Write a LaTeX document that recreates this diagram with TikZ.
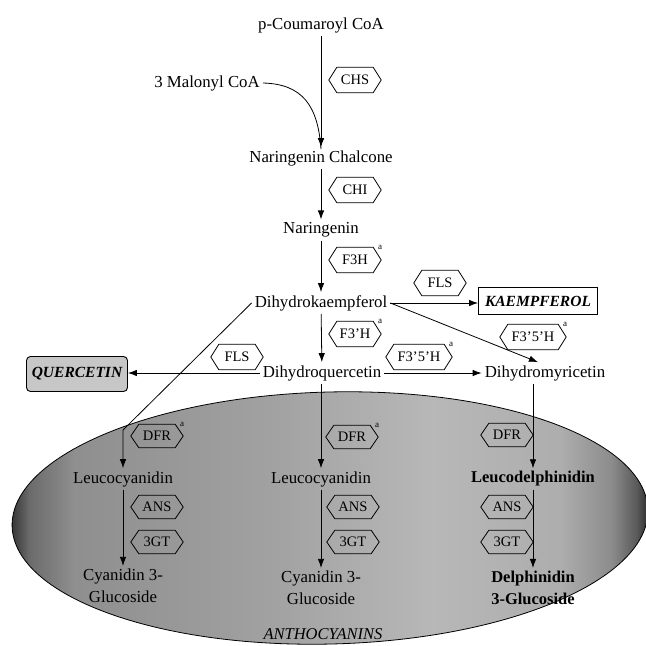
\documentclass[tikz,border=0pt]{standalone}
\usepackage{fontspec}
\setmainfont{Liberation Serif}
\usetikzlibrary{arrows.meta}
\pgfdeclarehorizontalshading{anthoshade}{100bp}{color(0bp)=(black!80); color(25bp)=(black!80); color(26.5bp)=(black!58); color(30bp)=(black!44); color(45bp)=(black!37); color(58bp)=(black!28); color(68bp)=(black!32); color(72bp)=(black!45); color(74bp)=(black!65); color(75bp)=(black!85); color(100bp)=(black!85)}
\begin{document}
\begin{tikzpicture}[x=1pt,y=-1pt,
  lbl/.style={font=\fontsize{16.8}{22}\selectfont, inner sep=3pt, align=center},
  enz/.style={rectangle, font=\fontsize{14.5}{15}\selectfont, minimum width=36pt, minimum height=25pt, inner sep=0pt},
  wide/.style={minimum width=50pt},
  hexline/.style={line width=0.8pt},
  supa/.style={font=\fontsize{9}{9}\selectfont, inner sep=0pt},
  arr/.style={-{Latex[length=9pt,width=6.5pt]}, line width=0.8pt},
  prod/.style={draw, line width=0.9pt, font=\fontsize{15.5}{18}\selectfont\bfseries\itshape, inner sep=2pt}]
\useasboundingbox (0,0) rectangle (646,646);
% anthocyanin ellipse
\path[shading=anthoshade, draw=black, line width=0.8pt, rotate around={1.5:(330,518)}]
  (330,518) ellipse [x radius=318pt, y radius=126pt];
% metabolites
\node[lbl] (pc)  at (321,25)  {p-Coumaroyl CoA};
\node[lbl] (mal) at (207,83)  {3 Malonyl CoA};
\node[lbl] (nc)  at (321,158) {Naringenin Chalcone};
\node[lbl] (nar) at (321,230) {Naringenin};
\node[lbl] (dhk) at (321,303) {Dihydrokaempferol};
\node[lbl] (dq)  at (322,373) {Dihydroquercetin};
\node[lbl] (dm)  at (545,373) {Dihydromyricetin};
\node[prod, minimum width=119pt, minimum height=27pt] (kae) at (538,301) {KAEMPFEROL};
\node[prod, fill=black!22, rounded corners=4pt, minimum width=101pt, minimum height=35pt] (qu) at (77,374) {QUERCETIN};
\node[lbl] (lc1) at (123,479) {Leucocyanidin};
\node[lbl] (lc2) at (321,479) {Leucocyanidin};
\node[lbl, font=\fontsize{16.5}{22}\selectfont\bfseries] (ld) at (533,479) {Leucodelphinidin};
\node[lbl] (cy1) at (123,586) {Cyanidin 3-\\Glucoside};
\node[lbl] (cy2) at (321,588) {Cyanidin 3-\\Glucoside};
\node[lbl, font=\fontsize{16.5}{22}\selectfont\bfseries] (dp) at (533,588) {Delphinidin\\3-Glucoside};
\node[lbl, font=\fontsize{16.5}{18}\selectfont\itshape] (anth) at (323,634) {ANTHOCYANINS};
% enzymes
\node[enz] (chs) at (355,80) {CHS};
\node[enz] (chi) at (355,190) {CHI};
\node[enz] (f3h) at (355,260) {F3H};
\node[enz] (flsk) at (440,283) {FLS};
\node[enz] (f3ph) at (355,334) {F3'H};
\node[enz, wide] (f35a) at (533,337) {F3'5'H};
\node[enz] (flsq) at (237,357) {FLS};
\node[enz, wide] (f35b) at (419,357) {F3'5'H};
\node[enz, minimum height=23pt] (dfr1) at (157,436) {DFR};
\node[enz, minimum height=23pt] (dfr2) at (352,437) {DFR};
\node[enz, minimum height=23pt] (dfr3) at (507,435) {DFR};
\node[enz, minimum height=23pt] (ans1) at (157,507) {ANS};
\node[enz, minimum height=23pt] (gt1)  at (157,542) {3GT};
\node[enz, minimum height=23pt] (ans2) at (353,507) {ANS};
\node[enz, minimum height=23pt] (gt2)  at (353,542) {3GT};
\node[enz, minimum height=23pt] (ans3) at (507,507) {ANS};
\node[enz, minimum height=23pt] (gt3)  at (507,542) {3GT};
\foreach \e in {chs,chi,f3h,flsk,f3ph,f35a,flsq,f35b,dfr1,dfr2,dfr3,ans1,gt1,ans2,gt2,ans3,gt3}
  \draw[hexline] ([xshift=-8pt]\e.west) -- (\e.north west) -- (\e.north east)
    -- ([xshift=8pt]\e.east) -- (\e.south east) -- (\e.south west) -- cycle;
% superscripts
\foreach \e in {f3h,f3ph,f35a,f35b,dfr1,dfr2}
  \node[supa] (sup-\e) at ([xshift=7pt,yshift=0pt]\e.north east) {a};
% connectors
\coordinate (bend) at (123,430);
\draw[arr] (pc) -- (nc);
\draw[line width=0.8pt] (mal.east) .. controls (302,84) and (318,105) .. ([yshift=-2pt]nc.north);
\draw[arr] (nc) -- (nar);
\draw[arr] (nar) -- (dhk);
\draw[arr] (dhk) -- (dq);
\draw[arr] (dhk.east) -- (dhk.east -| kae.west);
\draw[arr] (dhk.east) -- ([xshift=-7pt]dm.north);
\draw[arr] (dq.west) -- (dq.west -| qu.east);
\draw[arr] (dq.east) -- (dq.east -| dm.west);
\draw[arr] (dhk.west) -- (bend) -- (lc1);
\draw[arr] (dq.south -| lc2) -- (lc2);
\draw[arr] (ld |- dm.south) -- (ld);
\draw[arr] (lc1) -- (cy1);
\draw[arr] (lc2) -- (cy2);
\draw[arr] (ld) -- (dp);
\end{tikzpicture}
\end{document}
